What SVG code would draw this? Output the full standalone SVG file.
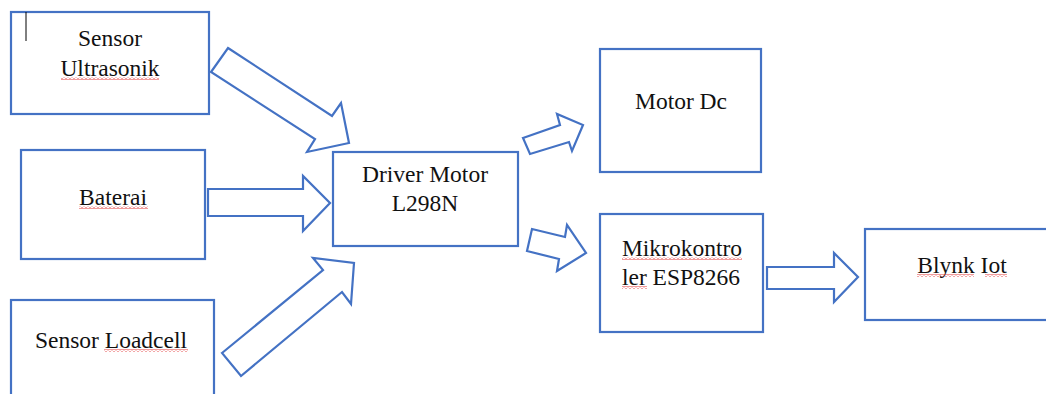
<svg xmlns="http://www.w3.org/2000/svg" width="1046" height="394" viewBox="0 0 1046 394">
<style>
.box{fill:#fff;stroke:#4472C4;stroke-width:2.2}
.arr{fill:#fff;stroke:#4472C4;stroke-width:2.2;stroke-linejoin:miter}
.t{font-family:'Liberation Serif','Times New Roman',serif;font-size:23.5px;fill:#111;text-anchor:middle}
.sq{fill:url(#wave)}
</style>
<defs>
<pattern id="wave" width="4" height="3" patternUnits="userSpaceOnUse">
<path d="M0,2.5 L2,0.5 L4,2.5" fill="none" stroke="#e02020" stroke-width="0.9"/>
</pattern>
</defs>
<rect width="1046" height="394" fill="#fff"/>
<g id="connectors">
<polygon class="arr" points="228,48 332,116 341,103 349,143 307,152 315,139 211,72"/>
<polygon class="arr" points="208,189 303,189 303,176 330,203 303,231 303,216 208,216"/>
<polygon class="arr" points="222,353 323,270 313,258 354,263 351,304 342,292 241,376"/>
<polygon class="arr" points="523,138 560,125 557,114 583,125 572,151 569,142 530,154"/>
<polygon class="arr" points="532,229 565,237 567,225 586,253 557,271 559,259 527,251"/>
<polygon class="arr" points="767,267 834,267 834,253 858,277 834,302 834,289 767,289"/>
</g>
<g id="sensor-ultrasonik">
<rect class="box" x="11" y="12" width="198" height="102"/>
<line x1="26" y1="12" x2="26" y2="41" stroke="#000" stroke-width="1"/>
<text class="t" x="110" y="46">Sensor</text>
<text class="t" x="110" y="76">Ultrasonik</text>
<rect class="sq" x="61" y="77" width="98" height="3"/>
</g>
<g id="baterai">
<rect class="box" x="21" y="150" width="184" height="109"/>
<text class="t" x="113" y="205">Baterai</text>
<rect class="sq" x="79" y="206" width="69" height="3"/>
</g>
<g id="sensor-loadcell">
<rect class="box" x="11" y="300" width="203" height="110"/>
<text class="t" x="111" y="348">Sensor Loadcell</text>
<rect class="sq" x="104" y="349" width="84" height="3"/>
</g>
<g id="driver-motor">
<rect class="box" x="333" y="152" width="185" height="94"/>
<text class="t" x="425" y="182">Driver Motor</text>
<text class="t" x="425" y="211">L298N</text>
</g>
<g id="motor-dc">
<rect class="box" x="600" y="49" width="161" height="123"/>
<text class="t" x="681" y="109">Motor Dc</text>
</g>
<g id="mikrokontroler">
<rect class="box" x="600" y="214" width="163" height="118"/>
<text class="t" x="682" y="256">Mikrokontro</text>
<text class="t" x="681" y="285">ler ESP8266</text>
<rect class="sq" x="622" y="257" width="120" height="3"/>
<rect class="sq" x="622" y="286" width="25" height="3"/>
</g>
<g id="blynk-iot">
<rect class="box" x="865" y="229" width="190" height="91"/>
<text class="t" x="962" y="273">Blynk Iot</text>
<rect class="sq" x="917" y="274" width="57" height="3"/>
<rect class="sq" x="985" y="274" width="22" height="3"/>
</g>
</svg>
